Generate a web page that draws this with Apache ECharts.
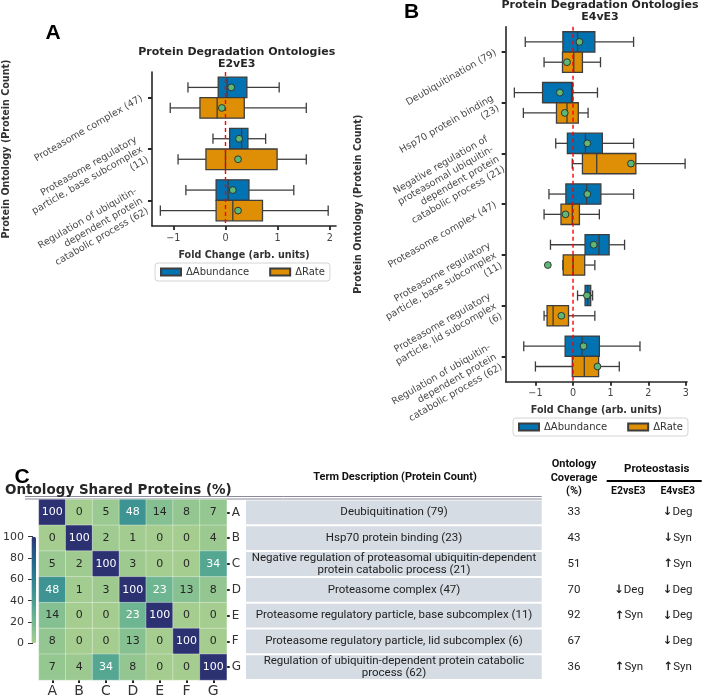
<!DOCTYPE html>
<html>
<head>
<meta charset="utf-8">
<script src="https://cdn.jsdelivr.net/npm/echarts@6/dist/echarts.min.js"></script>
<style>
html,body{margin:0;padding:0;background:#fff;}
#chart{width:704px;height:698px;}
</style>
</head>
<body>
<div id="chart"></div>
<script>
// ---------- DATA ----------
const catsA = [
  'Proteasome complex (47)',
  'Proteasome regulatory\nparticle, base subcomplex\n(11)',
  'Regulation of ubiquitin-\ndependent protein\ncatabolic process (62)'
];
// [min, q1, median, q3, max, mean]
const abundA = [
  [-0.72, -0.14, 0.03, 0.41, 1.03, 0.11],
  [-0.24, 0.08, 0.31, 0.43, 0.77, 0.26],
  [-0.76, -0.18, 0.05, 0.45, 1.31, 0.14]
];
const rateA = [
  [-1.06, -0.49, -0.16, 0.36, 1.55, -0.07],
  [-0.91, -0.375, 0.0, 0.99, 1.55, 0.24],
  [-1.25, -0.18, 0.14, 0.71, 1.97, 0.24]
];
const catsB = [
  'Deubiquitination (79)',
  'Hsp70 protein binding\n(23)',
  'Negative regulation of\nproteasomal ubiquitin-\ndependent protein\ncatabolic process (21)',
  'Proteasome complex (47)',
  'Proteasome regulatory\nparticle, base subcomplex\n(11)',
  'Proteasome regulatory\nparticle, lid subcomplex\n(6)',
  'Regulation of ubiquitin-\ndependent protein\ncatabolic process (62)'
];
const abundB = [
  [-1.27, -0.27, 0.12, 0.58, 1.61, 0.17],
  [-1.56, -0.81, -0.04, -0.01, 0.65, -0.35],
  [-0.46, -0.15, 0.33, 0.78, 1.61, 0.38],
  [-0.64, -0.19, 0.36, 0.74, 1.61, 0.38],
  [-0.60, 0.32, 0.69, 0.96, 1.37, 0.55],
  [0.12, 0.32, 0.39, 0.47, 0.52, 0.37],
  [-1.31, -0.21, 0.24, 0.70, 1.78, 0.28]
];
const rateB = [
  [-0.77, -0.28, 0.02, 0.25, 0.73, -0.16],
  [-1.32, -0.44, -0.16, 0.14, 0.40, -0.22],
  [-0.02, 0.25, 0.63, 1.67, 2.98, 1.54],
  [-0.77, -0.32, -0.02, 0.17, 0.70, -0.20],
  [-0.27, -0.26, 0.0, 0.31, 0.58, -0.67],
  [-0.77, -0.69, -0.53, -0.12, 0.58, -0.31],
  [-1.0, -0.02, 0.30, 0.68, 1.23, 0.65]
];
const ticksA = [-1, 0, 1, 2];
const ticksB = [-1, 0, 1, 2, 3];
const refLine = [0];
const seriesNames = ['\u0394Abundance', '\u0394Rate'];

const letters = ['A', 'B', 'C', 'D', 'E', 'F', 'G'];
const shared = [
  [100, 0, 5, 48, 14, 8, 7],
  [0, 100, 2, 1, 0, 0, 4],
  [5, 2, 100, 3, 0, 0, 34],
  [48, 1, 3, 100, 23, 13, 8],
  [14, 0, 0, 23, 100, 0, 0],
  [8, 0, 0, 13, 0, 100, 0],
  [7, 4, 34, 8, 0, 0, 100]
];
const colorbarTicks = [0, 20, 40, 60, 80, 100];

const terms = [
  'Deubiquitination (79)',
  'Hsp70 protein binding (23)',
  'Negative regulation of proteasomal ubiquitin-dependent\nprotein catabolic process (21)',
  'Proteasome complex (47)',
  'Proteasome regulatory particle, base subcomplex (11)',
  'Proteasome regulatory particle, lid subcomplex (6)',
  'Regulation of ubiquitin-dependent protein catabolic\nprocess (62)'
];
const coverage = [33, 43, 51, 70, 92, 67, 36];
const e2Status = ['', '', '', '\u2193Deg', '\u2191Syn', '', '\u2191Syn'];
const e4Status = ['\u2193Deg', '\u2193Syn', '\u2191Syn', '\u2193Deg', '\u2193Deg', '\u2193Deg', '\u2191Syn'];

// ---------- STYLE ----------
const BLUE = '#0173b2', ORANGE = '#de8f05', GREEN = '#5cb874', EDGE = '#3d3d3d';
const crest = ['#a5cd90', '#8ec491', '#75b990', '#5eac92', '#4a9f93', '#3b9193', '#2e8292', '#26728f', '#25618a', '#284d82', '#2c3172'];
const FONT = 'DejaVu Sans';
const minus = v => String(v).replace('-', '\u2212');

function boxRender(sign, color) {
  return function (params, api) {
    const cat = api.value(0);
    const band = api.size([0, 1])[1];
    const h = band * 0.4;
    const cy = api.coord([0, cat])[1] + sign * band * 0.2;
    const X = i => api.coord([api.value(i), cat])[0];
    const mn = X(1), q1 = X(2), md = X(3), q3 = X(4), mx = X(5);
    const ls = { stroke: EDGE, lineWidth: 1.3 };
    const cap = h / 4;
    return {
      type: 'group',
      children: [
        { type: 'line', shape: { x1: mn, y1: cy, x2: q1, y2: cy }, style: ls },
        { type: 'line', shape: { x1: q3, y1: cy, x2: mx, y2: cy }, style: ls },
        { type: 'line', shape: { x1: mn, y1: cy - cap, x2: mn, y2: cy + cap }, style: ls },
        { type: 'line', shape: { x1: mx, y1: cy - cap, x2: mx, y2: cy + cap }, style: ls },
        { type: 'rect', shape: { x: q1, y: cy - h / 2, width: Math.max(q3 - q1, 1), height: h }, style: { fill: color, stroke: EDGE, lineWidth: 1.3 } },
        { type: 'line', shape: { x1: md, y1: cy - h / 2, x2: md, y2: cy + h / 2 }, style: ls }
      ]
    };
  };
}
function meanRender(sign) {
  return function (params, api) {
    const cat = api.value(0);
    const band = api.size([0, 1])[1];
    const cy = api.coord([0, cat])[1] + sign * band * 0.2;
    const cx = api.coord([api.value(6), cat])[0];
    return { type: 'circle', shape: { cx: cx, cy: cy, r: 3.4 }, style: { fill: GREEN, stroke: '#2a2a2a', lineWidth: 0.9 } };
  };
}

function boxSeries(name, rows, sign, color, gi) {
  return {
    type: 'custom', name: name, xAxisIndex: gi, yAxisIndex: gi,
    itemStyle: { color: color, borderColor: EDGE, borderWidth: 0.8 },
    encode: { x: [1, 2, 3, 4, 5, 6], y: 0 },
    clip: false, silent: true,
    renderItem: boxRender(sign, color),
    data: rows.map((r, i) => [i].concat(r)),
    z: 2
  };
}
function meanSeries(rows, sign, gi) {
  return {
    type: 'custom', xAxisIndex: gi, yAxisIndex: gi,
    encode: { x: [6], y: 0 }, clip: false, silent: true,
    renderItem: meanRender(sign),
    data: rows.map((r, i) => [i].concat(r)),
    z: 6
  };
}

function zeroLine(gi) {
  return {
    type: 'custom', xAxisIndex: gi, yAxisIndex: gi, silent: true, clip: false, z: 4,
    encode: { x: 0 },
    data: refLine.map(v => [v]),
    renderItem: function (params, api) {
      const cs = params.coordSys;
      const x = api.coord([api.value(0), 0])[0];
      return { type: 'line', shape: { x1: x, y1: cs.y, x2: x, y2: cs.y + cs.height },
        style: { stroke: '#ff0000', lineWidth: 1.4, lineDash: [4, 3] } };
    }
  };
}

function valueX(gi, min, max, ticks) {
  return {
    gridIndex: gi, type: 'value', min: min, max: max,
    axisLine: { show: true, onZero: false, lineStyle: { color: '#262626', width: 1.6 } },
    axisTick: { show: true, customValues: ticks, length: 4, lineStyle: { color: '#262626', width: 1.8 } },
    axisLabel: { customValues: ticks, formatter: minus, fontSize: 9.6, color: '#444', margin: 7, fontFamily: FONT },
    splitLine: { show: false },
    name: 'Fold Change (arb. units)', nameLocation: 'middle', nameGap: 24,
    nameTextStyle: { fontWeight: 'bold', fontSize: 9.6, color: '#333', fontFamily: FONT }
  };
}
function catY(gi, cats, nameGap) {
  return {
    gridIndex: gi, type: 'category', data: cats, inverse: true,
    axisLine: { show: true, onZero: false, lineStyle: { color: '#262626', width: 1.6 } },
    axisTick: { show: true, alignWithLabel: true, length: 4, lineStyle: { color: '#262626', width: 2 } },
    axisLabel: { rotate: 30, fontSize: 9.6, lineHeight: 11.5, color: '#4a4a4a', margin: 10, fontFamily: FONT },
    splitLine: { show: false },
    name: 'Protein Ontology (Protein Count)', nameLocation: 'middle', nameGap: nameGap,
    nameTextStyle: { fontWeight: 'bold', fontSize: 9.6, color: '#333', fontFamily: FONT }
  };
}

const heatData = [];
shared.forEach((row, r) => row.forEach((v, c) => {
  heatData.push({ value: [c, r, v], label: { color: v >= 20 ? '#ffffff' : '#262626' } });
}));

function statusText(s) {
  return s ? '{arr|' + s.charAt(0) + '}' + s.slice(1) : '';
}

function tableRender(params, api) {
  const idx = api.value(1);
  const p = api.coord([0, idx]);
  const band = api.size([0, 1])[1];
  const cy = p[1];
  const x0 = p[0];
  const tf = { fontFamily: 'Roboto, DejaVu Sans', fontSize: 11.5, fill: '#222', align: 'center', verticalAlign: 'middle', lineHeight: 12.7 };
  const rich = { arr: { fontFamily: 'DejaVu Sans', fontWeight: 'bold', fontSize: 11.5, fill: '#222' } };
  return {
    type: 'group',
    children: [
      { type: 'rect', shape: { x: x0, y: cy - band / 2 + 1, width: 295.7, height: band - 2 }, style: { fill: '#d5dce4' } },
      { type: 'text', x: x0 + 148, y: cy, style: Object.assign({ text: terms[idx] }, tf) },
      { type: 'text', x: x0 + 328, y: cy, style: Object.assign({ text: String(coverage[idx]) }, tf) },
      { type: 'text', x: x0 + 383, y: cy, style: Object.assign({ text: statusText(e2Status[idx]), rich: rich }, tf) },
      { type: 'text', x: x0 + 431.7, y: cy, style: Object.assign({ text: statusText(e4Status[idx]), rich: rich }, tf) }
    ]
  };
}

const hdr = { fontFamily: 'Roboto, DejaVu Sans', fontWeight: 'bold', fontSize: 11, fill: '#111', align: 'center', verticalAlign: 'middle' };
function txt(x, y, text, st) { return { type: 'text', x: x, y: y, style: Object.assign({ text: text }, st) }; }

const option = {
  backgroundColor: '#ffffff',
  animation: false,
  grid: [
    { left: 147, top: 72, width: 189, height: 154 },
    { left: 505.7, top: 26.7, width: 181.3, height: 355 },
    { left: 38.9, top: 499.5, width: 187.8, height: 180.6 },
    { left: 31.5, top: 536.7, width: 4.5, height: 106.6 },
    { left: 246, top: 499.5, width: 458, height: 180.6 }
  ],
  xAxis: [
    valueX(0, -1.41, 2.12, ticksA),
    valueX(1, -1.79, 3.03, ticksB),
    { gridIndex: 2, type: 'category', data: letters, position: 'bottom',
      axisLine: { show: false },
      axisTick: { show: true, alignWithLabel: true, length: 3, lineStyle: { color: '#222', width: 2 } },
      axisLabel: { fontSize: 14, color: '#333', margin: 4, fontFamily: FONT } },
    { gridIndex: 3, type: 'value', show: false, min: 0, max: 1 },
    { gridIndex: 4, type: 'value', show: false, min: 0, max: 458 }
  ],
  yAxis: [
    catY(0, catsA, 141),
    catY(1, catsB, 142.7),
    { gridIndex: 2, type: 'category', data: letters, inverse: true, position: 'right',
      axisLine: { show: false },
      axisTick: { show: true, alignWithLabel: true, length: 3, lineStyle: { color: '#222', width: 2 } },
      axisLabel: { fontSize: 12, color: '#333', margin: 5, fontFamily: FONT } },
    { gridIndex: 3, type: 'value', min: 0, max: 100, interval: 20,
      axisLine: { show: false },
      axisTick: { show: true, customValues: colorbarTicks, length: 5, lineStyle: { color: '#333', width: 1 } },
      axisLabel: { customValues: colorbarTicks, fontSize: 11, color: '#333', margin: 9, fontFamily: FONT },
      splitLine: { show: false } },
    { gridIndex: 4, type: 'category', data: letters, inverse: true, show: false }
  ],
  visualMap: {
    type: 'continuous', min: 0, max: 100, seriesIndex: 10, calculable: false,
    left: 31.5, top: 536.7, itemWidth: 4.5, itemHeight: 106.6, padding: 0,
    text: null, inRange: { color: crest }, hoverLink: false
  },
  legend: [
    { data: seriesNames, left: 155, top: 263, icon: 'rect', itemWidth: 20, itemHeight: 7, itemGap: 20,
      padding: [4, 5, 4, 5], borderColor: '#d4d4d4', borderWidth: 1, borderRadius: 3,
      textStyle: { fontSize: 10, color: '#333', fontFamily: FONT }, selectedMode: false },
    { data: seriesNames, left: 513, top: 418, icon: 'rect', itemWidth: 20, itemHeight: 7, itemGap: 20,
      padding: [4, 5, 4, 5], borderColor: '#d4d4d4', borderWidth: 1, borderRadius: 3,
      textStyle: { fontSize: 10, color: '#333', fontFamily: FONT }, selectedMode: false }
  ],
  series: [
    boxSeries(seriesNames[0], abundA, -1, BLUE, 0),
    boxSeries(seriesNames[1], rateA, 1, ORANGE, 0),
    zeroLine(0),
    meanSeries(abundA, -1, 0),
    meanSeries(rateA, 1, 0),
    boxSeries(seriesNames[0], abundB, -1, BLUE, 1),
    boxSeries(seriesNames[1], rateB, 1, ORANGE, 1),
    zeroLine(1),
    meanSeries(abundB, -1, 1),
    meanSeries(rateB, 1, 1),
    { type: 'heatmap', xAxisIndex: 2, yAxisIndex: 2, data: heatData,
      itemStyle: { borderColor: 'rgba(255,255,255,0.35)', borderWidth: 1 },
      label: { show: true, fontSize: 11, fontFamily: FONT, formatter: p => p.value[2] },
      emphasis: { disabled: true } },
    { type: 'scatter', xAxisIndex: 3, yAxisIndex: 3, data: [] },
    { type: 'custom', xAxisIndex: 4, yAxisIndex: 4, encode: { x: 0, y: 1 }, clip: false,
      data: letters.map((l, i) => [0, i]), renderItem: tableRender, silent: true }
  ],
  graphic: [
    { type: 'line', shape: { x1: 25, y1: 496.5, x2: 541.7, y2: 496.5 }, style: { stroke: '#8a8a9a', lineWidth: 1 }, z: -1 },
    { type: 'line', shape: { x1: 25, y1: 499, x2: 541.7, y2: 499 }, style: { stroke: '#8a8a9a', lineWidth: 1 }, z: -1 },
    txt(53, 33, 'A', { fontFamily: 'Liberation Sans', fontWeight: 'bold', fontSize: 21, fill: '#000', align: 'center', verticalAlign: 'middle' }),
    txt(411.7, 12, 'B', { fontFamily: 'Liberation Sans', fontWeight: 'bold', fontSize: 21, fill: '#000', align: 'center', verticalAlign: 'middle' }),
    txt(22, 477, 'C', { fontFamily: 'Liberation Sans', fontWeight: 'bold', fontSize: 21, fill: '#000', align: 'center', verticalAlign: 'middle' }),
    txt(236.7, 58.2, 'Protein Degradation Ontologies\nE2vE3', { fontFamily: FONT, fontWeight: 'bold', fontSize: 11, lineHeight: 11.7, fill: '#262626', align: 'center', verticalAlign: 'middle' }),
    txt(600, 11, 'Protein Degradation Ontologies\nE4vE3', { fontFamily: FONT, fontWeight: 'bold', fontSize: 11, lineHeight: 11.7, fill: '#262626', align: 'center', verticalAlign: 'middle' }),
    txt(5, 490.5, 'Ontology Shared Proteins (%)', { fontFamily: FONT, fontWeight: 'bold', fontSize: 13.5, fill: '#262626', align: 'left', verticalAlign: 'middle' }),
    txt(395, 477, 'Term Description (Protein Count)', hdr),
    txt(574, 478, 'Ontology\nCoverage\n(%)', Object.assign({}, hdr, { lineHeight: 13.5 })),
    txt(656.7, 469, 'Proteostasis', Object.assign({}, hdr, { fontSize: 11.5 })),
    { type: 'line', shape: { x1: 606.7, y1: 481, x2: 701.7, y2: 481 }, style: { stroke: '#000', lineWidth: 2 } },
    txt(628.3, 491, 'E2vsE3', Object.assign({}, hdr, { fontSize: 10.5 })),
    txt(677.7, 491, 'E4vsE3', Object.assign({}, hdr, { fontSize: 10.5 }))
  ]
};

const chart = echarts.init(document.getElementById('chart'), null, { renderer: 'canvas' });
chart.setOption(option);
</script>
</body>
</html>
